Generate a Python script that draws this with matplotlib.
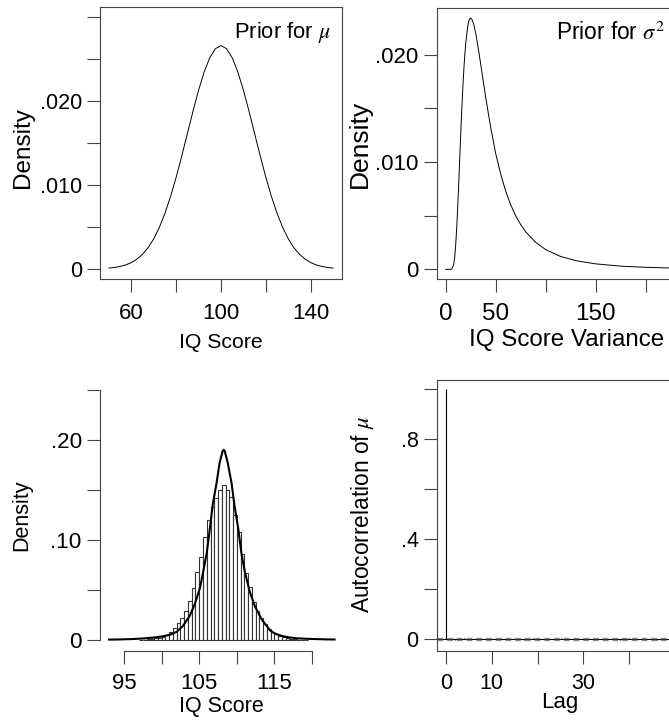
import numpy as np
import matplotlib
matplotlib.use("Agg")
import matplotlib.pyplot as plt
from matplotlib.ticker import FixedLocator, FixedFormatter

plt.rcParams["font.family"] = ["Liberation Sans", "DejaVu Sans"]
plt.rcParams["mathtext.fontset"] = "stix"

W, H = 669, 721

# prior for mu (normal curve)
mu_x = [50, 52.5, 55, 57.5, 60, 62.5, 65, 67.5, 70, 72.5, 75, 77.5, 80, 82.5, 85,
        87.5, 90, 92.5, 95, 97.5, 100, 102.5, 105, 107.5, 110, 112.5, 115, 117.5,
        120, 122.5, 125, 127.5, 130, 132.5, 135, 137.5, 140, 142.5, 145, 147.5, 150]
mu_y = [0.000103, 0.000177, 0.000295, 0.00048, 0.00076, 0.00117, 0.00175, 0.00254,
        0.00360, 0.00496, 0.00663, 0.00864, 0.01093, 0.01347, 0.01613, 0.01879,
        0.02130, 0.02347, 0.02516, 0.02623, 0.02660, 0.02623, 0.02516, 0.02347,
        0.02130, 0.01879, 0.01613, 0.01347, 0.01093, 0.00864, 0.00663, 0.00496,
        0.00360, 0.00254, 0.00175, 0.00117, 0.00076, 0.00048, 0.000295, 0.000177,
        0.000103]

# prior for sigma^2
var_x = [0, 4, 6, 8, 9, 10, 11, 12, 13, 14, 15, 16, 17, 18, 19, 20, 22, 23.5, 25,
         26.5, 28, 30, 33, 36, 40, 45, 50, 55, 60, 65, 70, 75, 80, 90, 100, 115, 130,
         150, 175, 200, 225]
var_y = [0, 0, 0.00002, 0.00045, 0.00114, 0.00227, 0.00386, 0.0058, 0.00798, 0.01028,
         0.01255, 0.01473, 0.0167, 0.01841, 0.01988, 0.02106, 0.02267, 0.02330,
         0.02344, 0.02325, 0.02287, 0.02202, 0.02036, 0.01852, 0.01603, 0.01322,
         0.01080, 0.00887, 0.00729, 0.00602, 0.00499, 0.00417, 0.00350, 0.00251,
         0.00184, 0.00120, 0.00081, 0.00051, 0.00030, 0.00019, 0.000125]

# posterior of mu: histogram (bins of 0.5, left edges) and density curve
bin_left = [97.0, 97.5, 98.0, 98.5, 99.0, 99.5, 100.0, 100.5, 101.0, 101.5, 102.0,
            102.5, 103.0, 103.5, 104.0, 104.5, 105.0, 105.5, 106.0, 106.5, 107.0,
            107.5, 108.0, 108.5, 109.0, 109.5, 110.0, 110.5, 111.0, 111.5, 112.0,
            112.5, 113.0, 113.5, 114.0, 114.5, 115.0, 115.5, 116.0, 116.5, 117.0,
            117.5, 118.0, 118.5, 119.0]
bin_density = [0.0004, 0.0006, 0.0009, 0.0013, 0.0018, 0.0025, 0.0035, 0.0050, 0.0080,
               0.0120, 0.0170, 0.0220, 0.0290, 0.0390, 0.0520, 0.0680, 0.0830, 0.1030,
               0.1200, 0.1330, 0.1420, 0.1500, 0.1550, 0.1500, 0.1430, 0.1250, 0.1080,
               0.0860, 0.0670, 0.0530, 0.0380, 0.0290, 0.0220, 0.0160, 0.0110, 0.0080,
               0.0060, 0.0043, 0.0030, 0.0021, 0.0015, 0.0010, 0.0007, 0.0005, 0.0003]
post_x = [93.0, 94.0, 95.0, 96.0, 97.0, 98.0, 99.0, 100.0, 101.0, 101.5, 102.0, 102.8,
          103.7, 104.4, 105.1, 105.5, 106.0, 106.4, 106.8, 107.3, 107.7, 107.9, 108.1,
          108.26, 108.4, 108.6, 108.8, 109.3, 109.7, 110.2, 110.6, 111.05, 111.7,
          112.4, 113.3, 114.4, 115.0, 115.7, 116.3, 117.0, 118.0, 119.0, 120.0, 121.0,
          122.0, 123.0]
post_y = [0.0007, 0.0008, 0.0010, 0.0012, 0.0016, 0.0021, 0.0028, 0.0038, 0.0053,
          0.0068, 0.0085, 0.0140, 0.0240, 0.0360, 0.0525, 0.0675, 0.0874, 0.1110,
          0.1360, 0.1570, 0.1770, 0.1830, 0.1890, 0.1905, 0.1890, 0.1830, 0.1770,
          0.1570, 0.1340, 0.1110, 0.0874, 0.0690, 0.0490, 0.0340, 0.0209, 0.0100,
          0.0070, 0.0050, 0.0038, 0.0029, 0.0020, 0.0016, 0.0013, 0.0011, 0.0009,
          0.0008]

# autocorrelation of mu
lags = list(range(51))
acf = [1.0, 0.004, -0.002, 0.001, 0.003, -0.001, 0.002, -0.003, 0.001, 0.000, 0.002,
       -0.002, 0.004, 0.001, -0.001, 0.002, 0.000, -0.002, 0.001, 0.003, -0.001,
       0.002, -0.002, 0.001, 0.000, 0.003, -0.001, 0.001, -0.002, 0.002, 0.000,
       0.001, -0.003, 0.002, 0.001, -0.001, 0.000, 0.002, -0.002, 0.001, 0.003,
       -0.001, 0.000, 0.002, -0.001, 0.001, -0.002, 0.002, 0.000, 0.001, -0.001]
conf = 0.005

EDGE = "#444444"


def px_axes(x0, y0, x1, y1):
    return fig.add_axes([x0 / W, 1 - y1 / H, (x1 - x0) / W, (y1 - y0) / H])


def style(ax, xt, xl, yt, yl, xfs, yfs, xpad=8.0, box=True):
    ax.xaxis.set_major_locator(FixedLocator(xt))
    ax.xaxis.set_major_formatter(FixedFormatter(xl))
    ax.yaxis.set_major_locator(FixedLocator(yt))
    ax.yaxis.set_major_formatter(FixedFormatter(yl))
    ax.tick_params(axis="both", direction="out", length=9.6, width=0.8, color=EDGE)
    ax.tick_params(axis="x", pad=xpad, labelsize=xfs)
    ax.tick_params(axis="y", pad=3.5, labelsize=yfs)
    for s in ax.spines.values():
        s.set_color(EDGE)
        s.set_linewidth(0.8)
    if not box:
        ax.spines["top"].set_visible(False)
        ax.spines["right"].set_visible(False)


def ftext(x, y, s, fs, **kw):
    fig.text(x / W, 1 - y / H, s, fontsize=fs, **kw)


fig = plt.figure(figsize=(W / 100, H / 100), dpi=100)

# top left
ax1 = px_axes(100, 7, 342, 279)
ax1.plot(mu_x, mu_y, color="black", lw=0.7)
ax1.set_xlim(46, 154)
ax1.set_ylim(-0.0012, 0.0312)
style(ax1, [60, 80, 100, 120, 140], ["60", "", "100", "", "140"],
      [0, 0.005, 0.01, 0.015, 0.02, 0.025, 0.03], ["0", "", ".010", "", ".020", "", ""],
      16, 15.5)
ax1.text(149.2, 0.0282, r"Prior for $\mu$", ha="right", va="center", fontsize=15.8)
ftext(221, 348, "IQ Score", 15.3, ha="center", va="baseline")
ftext(22.5, 147.5, "Density", 17.5, ha="center", va="center", rotation=90)

# top right
ax2 = px_axes(436.7, 8.3, 679.7, 279)
ax2.plot(var_x, var_y, color="black", lw=0.7)
ax2.set_xlim(-9, 234)
ax2.set_ylim(-0.0009, 0.02434)
style(ax2, [0, 50, 100, 150, 200], ["0", "50", "", "150", ""],
      [0, 0.005, 0.01, 0.015, 0.02], ["0", "", ".010", "", ".020"], 17.5, 16)
ax2.text(219.3, 0.0220, r"Prior for $\sigma^2$", ha="right", va="center", fontsize=16.3)
ftext(566.5, 346, "IQ Score Variance", 17.4, ha="center", va="baseline")
ftext(359.5, 143.5, "Density", 19, ha="center", va="center", rotation=90)

# bottom left
ax3 = px_axes(100, 380.2, 343.6, 651)
ax3.bar(bin_left, bin_density, width=0.5, align="edge", facecolor="white",
        edgecolor="#333333", linewidth=0.8)
ax3.plot(post_x, post_y, color="black", lw=1.5)
ax3.set_xlim(91.8, 124.2)
ax3.set_ylim(-0.0107, 0.26)
style(ax3, [95, 100, 105, 110, 115, 120], ["95", "", "105", "", "115", ""],
      [0, 0.05, 0.1, 0.15, 0.2, 0.25], ["0", "", ".10", "", ".20", ""],
      16, 16.2, xpad=6.5, box=False)
ax3.spines["left"].set_bounds(0, 0.25)
ax3.spines["bottom"].set_bounds(95, 120)
ftext(221, 712, "IQ Score", 15.5, ha="center", va="baseline")
ftext(22, 515.5, "Density", 15.5, ha="center", va="center", rotation=90)

# bottom right
ax4 = px_axes(436.7, 380, 684.4, 651)
ax4.vlines(lags, 0, acf, color="black", lw=0.8)
ax4.axhline(0, color="black", lw=0.8)
ax4.axhline(conf, color="#888888", lw=1.0, ls=(0, (4, 3)))
ax4.axhline(-conf, color="#888888", lw=1.0, ls=(0, (4, 3)))
ax4.set_xlim(-2, 52)
ax4.set_ylim(-0.048, 1.038)
style(ax4, [0, 10, 20, 30, 40, 50], ["0", "10", "", "30", "", ""],
      [0, 0.2, 0.4, 0.6, 0.8, 1.0], ["0", "", ".4", "", ".8", ""],
      15.5, 15.5, xpad=6.5)
ftext(560, 708, "Lag", 16, ha="center", va="baseline")
ftext(362, 514, r"Autocorrelation of $\mu$", 16.4, ha="center", va="center",
      rotation=90)

fig.savefig("out.png", dpi=100)
